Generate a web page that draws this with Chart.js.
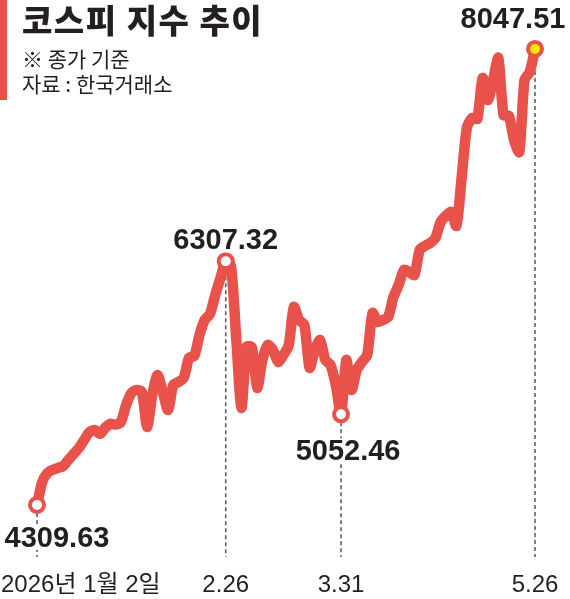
<!DOCTYPE html>
<html>
<head>
<meta charset="utf-8">
<script src="https://cdn.jsdelivr.net/npm/chart.js@4"></script>
<style>
  body { margin: 0; background: #fff; }
  #wrap { position: relative; width: 570px; height: 599px; }
  #myChart { position: absolute; left: 0; top: 0; }
  #bar { position: absolute; left: 0; top: 0; width: 7px; height: 100px; background: #e8524b; }
  .txt { position: absolute; left: 22px; font-family: "Noto Sans CJK KR", sans-serif; color: #231f20; white-space: nowrap; line-height: 1; }
  #title { top: 3px; font-size: 33px; font-weight: 900; letter-spacing: 1.5px; }
  #sub1 { top: 48px; font-size: 21px; }
  #sub2 { top: 73px; font-size: 21px; }
</style>
</head>
<body>
<div id="wrap">
  <canvas id="myChart" width="570" height="599"></canvas>
  <div id="bar"></div>
  <div class="txt" id="title">코스피 지수 추이</div>
  <div class="txt" id="sub1">※ 종가 기준</div>
  <div class="txt" id="sub2">자료 : 한국거래소</div>
</div>
<script>
// trading days, 2026
const dates = [
  '1.2','1.5','1.6','1.7','1.8','1.9','1.12','1.13','1.14','1.15','1.16','1.19','1.20','1.21','1.22','1.23','1.26','1.27','1.28','1.29','1.30',
  '2.2','2.3','2.4','2.5','2.6','2.9','2.10','2.11','2.12','2.13','2.19','2.20','2.23','2.24','2.25','2.26','2.27',
  '3.3','3.4','3.5','3.6','3.9','3.10','3.11','3.12','3.13','3.16','3.17','3.18','3.19','3.20','3.23','3.24','3.25','3.26','3.27','3.30','3.31',
  '4.1','4.2','4.3','4.6','4.7','4.8','4.9','4.10','4.13','4.14','4.15','4.16','4.17','4.20','4.21','4.22','4.23','4.24','4.27','4.28','4.29','4.30',
  '5.4','5.6','5.7','5.8','5.11','5.12','5.13','5.14','5.15','5.18','5.19','5.20','5.21','5.22','5.26'
]
const kospi = [
  4309.63, 4498, 4572, 4597, 4613, 4629, 4679, 4728, 4777, 4842, 4908, 4924, 4892, 4941, 4974, 4968, 4990, 5129, 5228, 5252, 5236,
  4949, 5211, 5375, 5236, 5088, 5293, 5318, 5351, 5515, 5531, 5703, 5826, 5875, 6031, 6170, 6307.32, 6269,
  5679, 5105, 5605, 5600, 5269, 5498, 5621, 5580, 5482, 5539, 5615, 5933, 5826, 5785, 5433, 5580, 5662, 5498, 5457, 5293, 5052.46,
  5498, 5252, 5416, 5482, 5539, 5883, 5810, 5826, 5851, 6015, 6113, 6236, 6220, 6195, 6400, 6433, 6457, 6498, 6629, 6679, 6711, 6597,
  6990, 7400, 7482, 7475, 7810, 7629, 7793, 7974, 7506, 7500, 7302, 7203, 7793, 7859, 8047.51
]
// marked days and their bottom tick texts
const markedDates = ['1.2', '2.26', '3.31', '5.26']
const tickTexts = ['2026년 1월 2일', '2.26', '3.31', '5.26']

const RED = '#e8524b'
const markIdx = markedDates.map(d => dates.indexOf(d))

// where each value label sits relative to its point
const labelPlace = [
  { dx: 20, dy: 42 },
  { dx: 0, dy: -12 },
  { dx: 7, dy: 46 },
  { dx: -22, dy: -21 }
]

const markLabels = {
  id: 'markLabels',
  beforeDatasetsDraw(chart) {
    const ctx = chart.ctx
    const meta = chart.getDatasetMeta(0)
    ctx.save()
    ctx.strokeStyle = '#555'
    ctx.lineWidth = 1.5
    ctx.setLineDash([4, 3])
    markIdx.forEach(i => {
      const p = meta.data[i]
      ctx.beginPath()
      ctx.moveTo(p.x, p.y + 8)
      ctx.lineTo(p.x, 557)
      ctx.stroke()
    })
    ctx.restore()
  },
  afterDatasetsDraw(chart) {
    const ctx = chart.ctx
    const meta = chart.getDatasetMeta(0)
    ctx.save()
    ctx.textAlign = 'center'
    ctx.textBaseline = 'alphabetic'
    markIdx.forEach((i, k) => {
      const p = meta.data[i]
      const txt = kospi[i].toFixed(2)
      ctx.font = 'bold 29px "Liberation Sans", sans-serif'
      const w = ctx.measureText(txt).width
      const x = p.x + labelPlace[k].dx
      const y = p.y + labelPlace[k].dy
      ctx.fillStyle = '#fff'
      ctx.fillRect(x - w / 2 - 1, y - 22, w + 2, 25)
      ctx.fillStyle = '#231f20'
      ctx.fillText(txt, x, y)

      ctx.font = '24px "Liberation Sans", "Noto Sans CJK KR", sans-serif'
      ctx.fillStyle = '#231f20'
      if (k === 0) {
        ctx.textAlign = 'left'
        ctx.fillText(tickTexts[k], 1, 592)
        ctx.textAlign = 'center'
      } else {
        ctx.fillText(tickTexts[k], p.x, 592)
      }
    })
    ctx.restore()
  }
}

const ctx = document.getElementById('myChart')

new Chart(ctx, {
  type: 'line',
  data: {
    labels: dates,
    datasets: [{
      data: kospi,
      borderColor: RED,
      borderWidth: 10.5,
      borderJoinStyle: 'round',
      borderCapStyle: 'round',
      tension: 0.25,
      clip: false,
      pointRadius: c => markIdx.includes(c.dataIndex) ? 7 : 0,
      pointHoverRadius: 0,
      pointBorderWidth: 4,
      pointBorderColor: RED,
      pointBackgroundColor: c => c.dataIndex === kospi.length - 1 ? '#ffe600' : '#fff'
    }]
  },
  options: {
    responsive: false,
    animation: false,
    events: [],
    layout: { padding: { left: 37, right: 35, top: 30, bottom: 79 } },
    plugins: { legend: { display: false }, tooltip: { enabled: false } },
    scales: {
      x: { display: false, offset: false },
      y: { display: false, min: 4186, max: 8203 }
    }
  },
  plugins: [markLabels]
})
</script>
</body>
</html>
